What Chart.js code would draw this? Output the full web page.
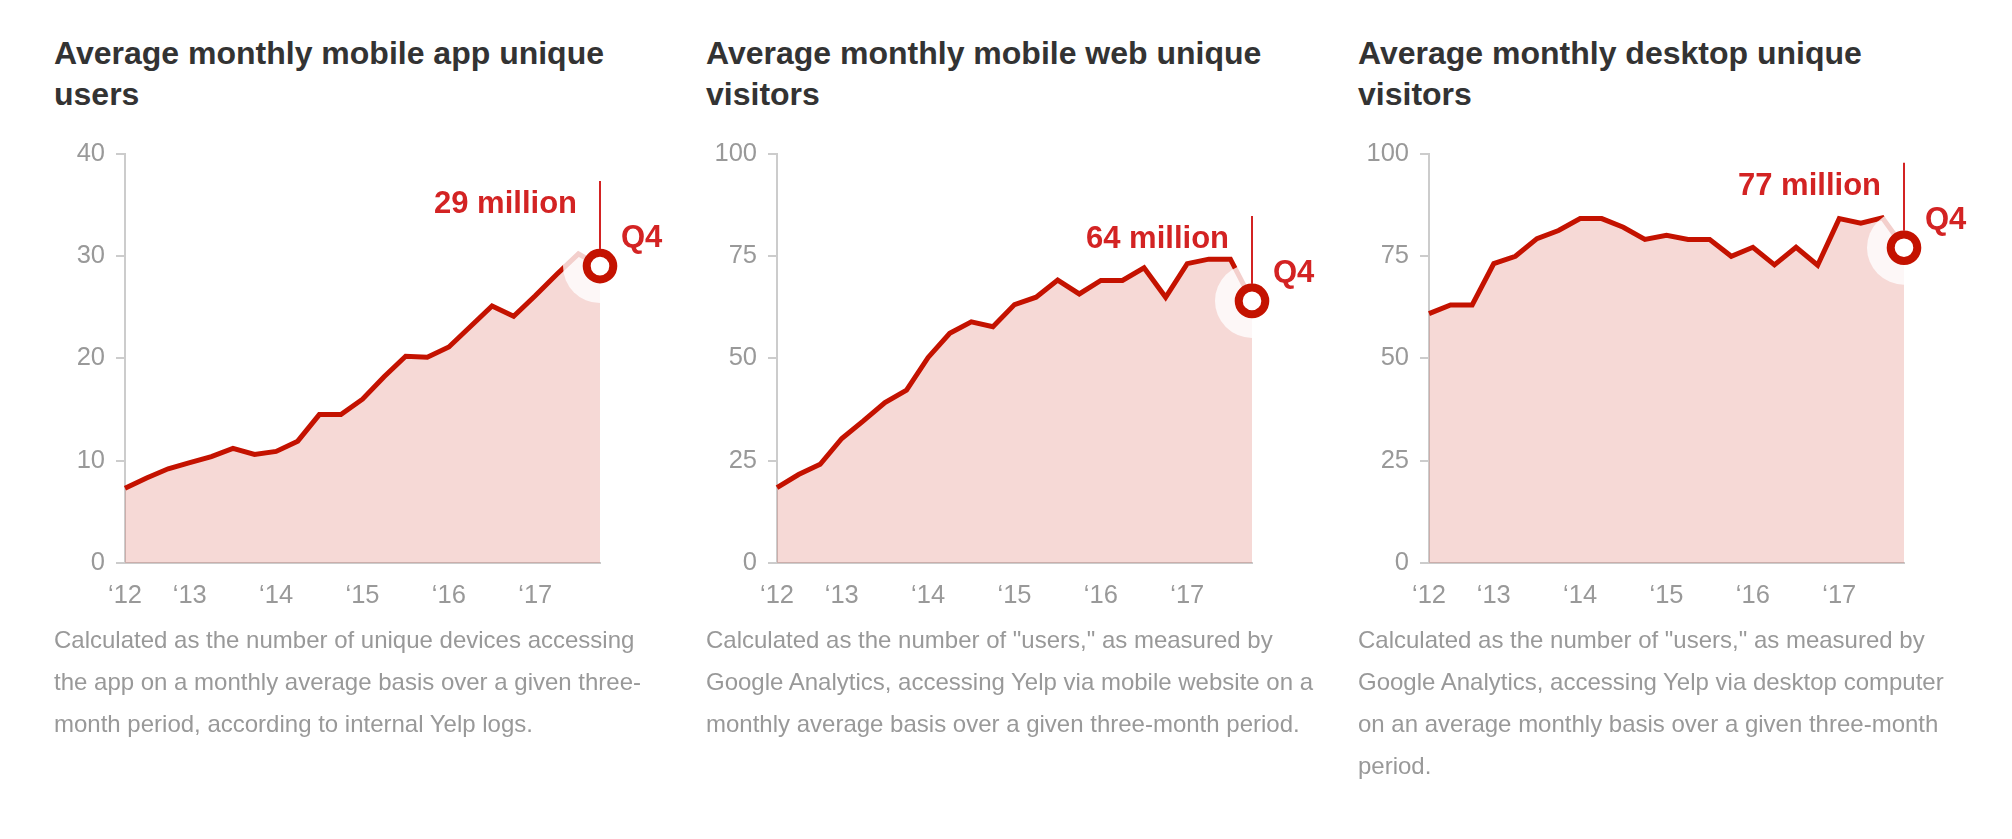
<!DOCTYPE html>
<html>
<head>
<meta charset="utf-8">
<title>Yelp unique users</title>
<script src="https://cdn.jsdelivr.net/npm/chart.js@4.4.1/dist/chart.umd.min.js"></script>
<style>
html, body { margin: 0; padding: 0; background: #fff; }
body { width: 2012px; height: 839px; position: relative; overflow: hidden; font-family: 'Liberation Sans', Arial, sans-serif; }
.panel { position: absolute; top: 0; width: 652px; height: 839px; }
.panel h2 { position: absolute; left: 0; top: 33px; margin: 0; font-size: 32px; line-height: 41px; font-weight: bold; color: #333; white-space: nowrap; }
.panel canvas { position: absolute; left: 0; top: 120px; }
.panel p { position: absolute; left: 0; top: 619px; margin: 0; font-size: 24px; line-height: 42px; color: #999; white-space: nowrap; }
</style>
</head>
<body>

<div class="panel" style="left:54px">
  <h2>Average monthly mobile app unique<br>users</h2>
  <canvas id="appChart" width="650" height="510"></canvas>
  <p>Calculated as the number of unique devices accessing<br>the app on a monthly average basis over a given three-<br>month period, according to internal Yelp logs.</p>
</div>

<div class="panel" style="left:706px">
  <h2>Average monthly mobile web unique<br>visitors</h2>
  <canvas id="webChart" width="650" height="510"></canvas>
  <p>Calculated as the number of "users," as measured by<br>Google Analytics, accessing Yelp via mobile website on a<br>monthly average basis over a given three-month period.</p>
</div>

<div class="panel" style="left:1358px">
  <h2>Average monthly desktop unique<br>visitors</h2>
  <canvas id="desktopChart" width="650" height="510"></canvas>
  <p>Calculated as the number of "users," as measured by<br>Google Analytics, accessing Yelp via desktop computer<br>on an average monthly basis over a given three-month<br>period.</p>
</div>

<script>
// quarters, Q2 2012 .. Q4 2017
var quarters = ['2012 Q2', '2012 Q3', '2012 Q4',
                '2013 Q1', '2013 Q2', '2013 Q3', '2013 Q4',
                '2014 Q1', '2014 Q2', '2014 Q3', '2014 Q4',
                '2015 Q1', '2015 Q2', '2015 Q3', '2015 Q4',
                '2016 Q1', '2016 Q2', '2016 Q3', '2016 Q4',
                '2017 Q1', '2017 Q2', '2017 Q3', '2017 Q4'];

// millions
var appUsers = [7.3, 8.3, 9.2, 9.8, 10.4, 11.2, 10.6, 10.9, 11.9, 14.5, 14.5, 16.0,
                18.2, 20.2, 20.1, 21.1, 23.1, 25.1, 24.1, 26.1, 28.2, 30.2, 29];
var webVisitors = [18.4, 21.6, 24.1, 30.4, 34.7, 39.2, 42.2, 50.2, 56.1, 58.9, 57.7, 63.1,
                   64.9, 69.1, 65.7, 69.0, 69.0, 72.1, 64.9, 73.1, 74.2, 74.2, 64];
var desktopVisitors = [60.9, 63.0, 63.0, 73.1, 74.9, 79.2, 81.2, 84.1, 84.1, 82.0, 79.0, 80.0,
                       79.0, 79.0, 74.9, 77.1, 72.8, 77.1, 72.7, 84.1, 83.0, 84.3, 77];

var latestLabel = 'Q4';

var red = '#c41200';
var labelRed = '#d32323';

Chart.defaults.font.family = "'Liberation Sans', Arial, sans-serif";

// white halo round the latest point, then the callout
var callout = {
    id: 'callout',
    afterDatasetDraw: function(chart, args) {
        if (args.index !== 0) return;
        var pts = args.meta.data;
        var p = pts[pts.length - 1];
        var ctx = chart.ctx;
        ctx.save();
        ctx.fillStyle = 'rgba(255,255,255,0.8)';
        ctx.beginPath();
        ctx.arc(p.x, p.y, 37, 0, Math.PI * 2);
        ctx.fill();
        ctx.restore();
    },
    afterDatasetsDraw: function(chart) {
        var meta = chart.getDatasetMeta(1);
        var p = meta.data[meta.data.length - 1];
        var values = chart.data.datasets[0].data;
        var last = values[values.length - 1];
        var ctx = chart.ctx;
        ctx.save();
        ctx.strokeStyle = labelRed;
        ctx.lineWidth = 2;
        ctx.beginPath();
        ctx.moveTo(p.x, p.y - 85);
        ctx.lineTo(p.x, p.y - 17);
        ctx.stroke();

        ctx.fillStyle = labelRed;
        ctx.font = "bold 31px 'Liberation Sans', Arial, sans-serif";
        ctx.textBaseline = 'alphabetic';
        ctx.textAlign = 'right';
        ctx.fillText(Math.round(last) + ' million', p.x - 23, p.y - 53);
        ctx.textAlign = 'left';
        ctx.fillText(latestLabel, p.x + 21, p.y - 19);
        ctx.restore();
    }
};

function makeChart(id, values, yMax, yStep) {
    var marker = values.map(function(v, i) { return i === values.length - 1 ? v : null; });

    return new Chart(document.getElementById(id), {
        type: 'line',
        data: {
            labels: quarters,
            datasets: [
                {
                    data: values,
                    borderColor: red,
                    borderWidth: 5,
                    backgroundColor: 'rgba(196,18,0,0.16)',
                    fill: 'origin',
                    pointRadius: 0,
                    tension: 0,
                    order: 1
                },
                {
                    data: marker,
                    showLine: false,
                    fill: false,
                    pointRadius: 13.3,
                    pointBorderWidth: 8,
                    pointBackgroundColor: '#fff',
                    pointBorderColor: red,
                    clip: false,
                    order: 0
                }
            ]
        },
        options: {
            responsive: false,
            animation: false,
            devicePixelRatio: 1,
            layout: { padding: { top: 33.5, right: 104, left: 0, bottom: 0 } },
            plugins: {
                legend: { display: false },
                tooltip: { enabled: false }
            },
            scales: {
                x: {
                    type: 'category',
                    offset: false,
                    grid: { display: false, drawTicks: false },
                    border: { display: true, color: '#ccc', width: 2 },
                    ticks: {
                        autoSkip: false,
                        maxRotation: 0,
                        padding: 18,
                        color: '#999',
                        font: { size: 25.5 },
                        callback: function(value, index) {
                            var q = quarters[index];
                            if (index === 0 || q.slice(-2) === 'Q1') return '\u2018' + q.slice(2, 4);
                            return '';
                        }
                    },
                    afterFit: function(scale) { scale.height = 67; }
                },
                y: {
                    min: 0,
                    max: yMax,
                    ticks: { stepSize: yStep, padding: 11, color: '#999', font: { size: 25.5 } },
                    grid: { drawOnChartArea: false, drawTicks: true, tickLength: 9, color: '#ccc', lineWidth: 2 },
                    border: { display: true, color: '#ccc', width: 2 },
                    afterFit: function(scale) { scale.width = 71; }
                }
            }
        },
        plugins: [callout]
    });
}

makeChart('appChart', appUsers, 40, 10);
makeChart('webChart', webVisitors, 100, 25);
makeChart('desktopChart', desktopVisitors, 100, 25);
</script>
</body>
</html>
